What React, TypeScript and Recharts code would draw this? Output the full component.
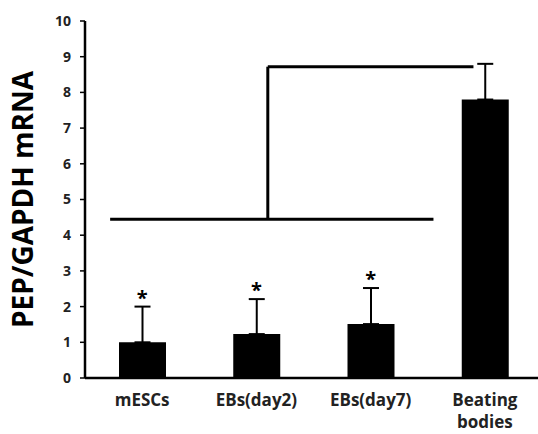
import { BarChart, Bar, XAxis, YAxis, ErrorBar, ReferenceLine, ReferenceDot, Label } from "recharts";

const groups = ["mESCs", "EBs(day2)", "EBs(day7)", "Beating bodies"];
const means = [1.0, 1.23, 1.51, 7.8];
const errUp = [1.0, 0.98, 1.01, 1.0];
const starred = [true, true, true, false];
const yTicks = [0, 1, 2, 3, 4, 5, 6, 7, 8, 9, 10];

// significance bracket, in (category slot, value) units: slot 0..4 spans the x axis
const bracketLow = { y: 4.45, x1: 0.22, x2: 3.05 };
const bracketStem = { x: 1.6, y1: 4.45, y2: 8.72 };
const bracketTop = { y: 8.72, x1: 1.6, x2: 3.4 };

const data = groups.map((g, i) => ({
  name: g,
  slot: i + 0.5,
  value: means[i],
  err: [0, errUp[i]],
}));

const font = "'Open Sans', sans-serif";

function XTick(props: any) {
  const { x, y, payload } = props;
  const lines = String(payload.value).split(" ");
  return (
    <text x={x} y={y} textAnchor="middle" fontFamily={font} fontWeight={700} fontSize={17} fill="#222">
      {lines.map((l, i) => (
        <tspan key={i} x={x} dy={i === 0 ? 20 : 22}>
          {l}
        </tspan>
      ))}
    </text>
  );
}

const bracket = (a: { x: number; y: number }, b: { x: number; y: number }) => (
  <ReferenceLine xAxisId="num" ifOverflow="visible" segment={[a, b]} stroke="#000" strokeWidth={3} />
);

export default function App() {
  return (
    <div style={{ position: "absolute", left: 0, top: 0, width: 538, height: 434, background: "#fff", overflow: "hidden" }}>
      <BarChart width={538} height={434} data={data} margin={{ top: 21, right: -4, bottom: 0, left: 0 }}>
        <XAxis
          xAxisId="cat"
          dataKey="name"
          height={56}
          tick={<XTick />}
          tickLine={false}
          axisLine={{ stroke: "#000", strokeWidth: 2.5 }}
          interval={0}
        />
        <XAxis xAxisId="num" dataKey="slot" type="number" domain={[0, 4]} allowDataOverflow hide />
        <YAxis
          width={85}
          domain={[0, 10]}
          ticks={yTicks}
          interval={0}
          tickSize={5}
          tickMargin={9}
          tickLine={{ stroke: "#000", strokeWidth: 1.5 }}
          axisLine={{ stroke: "#000", strokeWidth: 2.5 }}
          tick={{ fontFamily: font, fontWeight: 700, fontSize: 14, fill: "#222" }}
        >
          <Label
            value="PEP/GAPDH mRNA"
            angle={-90}
            position="center"
            dx={-19}
            style={{ fontFamily: font, fontWeight: 700, fontSize: 28, fill: "#000", textAnchor: "middle" }}
          />
        </YAxis>
        <Bar xAxisId="cat" dataKey="value" fill="#000" barSize={47} isAnimationActive={false}>
          <ErrorBar dataKey="err" width={8} stroke="#000" strokeWidth={2} direction="y" />
        </Bar>
        {data.map((d, i) =>
          starred[i] ? (
            <ReferenceDot
              key={d.name}
              xAxisId="cat"
              x={d.name}
              y={means[i] + errUp[i]}
              r={0}
              stroke="none"
              label={{
                value: "*",
                position: "top",
                offset: 2,
                style: { fontFamily: font, fontWeight: 700, fontSize: 20, fill: "#000" },
              }}
            />
          ) : null
        )}
        {bracket({ x: bracketLow.x1, y: bracketLow.y }, { x: bracketLow.x2, y: bracketLow.y })}
        {bracket({ x: bracketStem.x, y: bracketStem.y1 }, { x: bracketStem.x, y: bracketStem.y2 })}
        {bracket({ x: bracketTop.x1, y: bracketTop.y }, { x: bracketTop.x2, y: bracketTop.y })}
      </BarChart>
    </div>
  );
}
